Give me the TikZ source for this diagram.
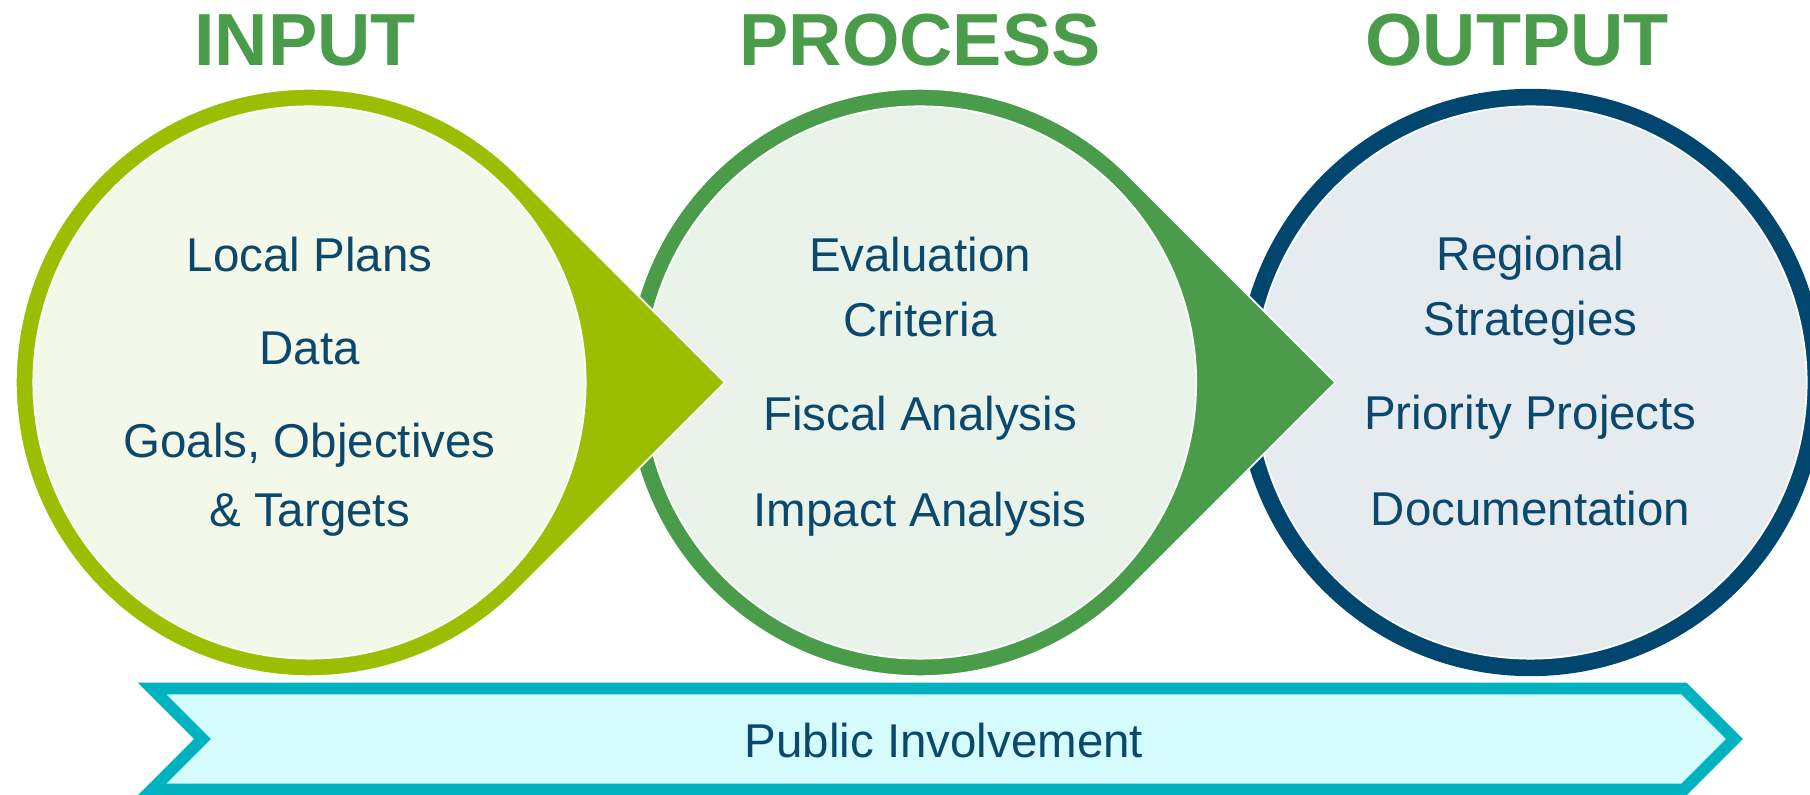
\documentclass[tikz,border=0pt]{standalone}
\usepackage{fontspec}
\setmainfont{Liberation Sans}
\usepackage{xcolor}
\definecolor{inputGreen}{RGB}{155,191,0}
\definecolor{processGreen}{RGB}{74,156,74}
\definecolor{outputBlue}{RGB}{0,70,110}
\definecolor{inputFill}{RGB}{244,248,232}
\definecolor{processFill}{RGB}{233,243,234}
\definecolor{outputFill}{RGB}{230,235,240}
\definecolor{itemBlue}{RGB}{12,72,108}
\definecolor{bannerTeal}{RGB}{0,178,192}
\definecolor{bannerFill}{RGB}{212,251,253}
\tikzset{
    pointer/.style={draw=white, line width=0.5pt},
    inner/.style={draw=white, line width=0.5pt},
    heading/.style={text=processGreen, font=\fontsize{21}{25}\selectfont\bfseries, anchor=base},
    item/.style={text=itemBlue, font=\fontsize{13.5}{18.5}\selectfont, align=center, anchor=base},
    banner/.style={draw=bannerTeal, fill=bannerFill, line width=3.4pt, line join=miter}
}

\begin{document}
\begin{tikzpicture}[x=0.01cm, y=-0.01cm]
    \useasboundingbox (0,0) rectangle (1810,795);
    \clip (0,0) rectangle (1810,795);

    % centres of the three circles
    \coordinate (c1) at (309.5,382.5);
    \coordinate (c2) at (920,382.5);
    \coordinate (c3) at (1530.5,382.5);

    % output circle (no pointer)
    \fill[outputBlue] (c3) circle[radius=2.935cm];
    \draw[inner, fill=outputFill] (c3) circle[radius=2.76cm];

    % process circle, pointer overlaps the output circle
    \draw[pointer, fill=processGreen] (c2) ++(45:2.935cm) arc[start angle=45, end angle=315, radius=2.935cm] -- ++(45:2.935cm) -- cycle;
    \draw[inner, fill=processFill] (c2) circle[radius=2.76cm];

    % input circle, pointer overlaps the process circle
    \draw[pointer, fill=inputGreen] (c1) ++(45:2.935cm) arc[start angle=45, end angle=315, radius=2.935cm] -- ++(45:2.935cm) -- cycle;
    \draw[inner, fill=inputFill] (c1) circle[radius=2.76cm];

    % headings
    \node[heading] (inputTitle) at (305,66) {INPUT};
    \node[heading] (processTitle) at (920,66) {PROCESS};
    \node[heading] (outputTitle) at (1517,66) {OUTPUT};

    % input items (two-line items sit on their last baseline)
    \node[item] (localPlans) at (309.5,272) {Local Plans};
    \node[item] (data) at (309.5,365) {Data};
    \node[item] (goals) at (309.5,527) {Goals, Objectives\\[1.4pt]\& Targets};

    % process items
    \node[item] (criteria) at (920,337) {Evaluation\\Criteria};
    \node[item] (fiscal) at (920,431) {Fiscal Analysis};
    \node[item] (impact) at (920,527) {Impact Analysis};

    % output items
    \node[item] (strategies) at (1530.5,336) {Regional\\Strategies};
    \node[item] (projects) at (1530.5,430) {Priority Projects};
    \node[item] (documentation) at (1530.5,526) {Documentation};

    % public involvement banner
    \draw[banner] (152,688.5) -- (1684,688.5) -- (1734.5,739) -- (1684,789.5) -- (152,789.5) -- (202.5,739) -- cycle;
    \node[item] (public) at (944,757) {Public Involvement};
\end{tikzpicture}
\end{document}
